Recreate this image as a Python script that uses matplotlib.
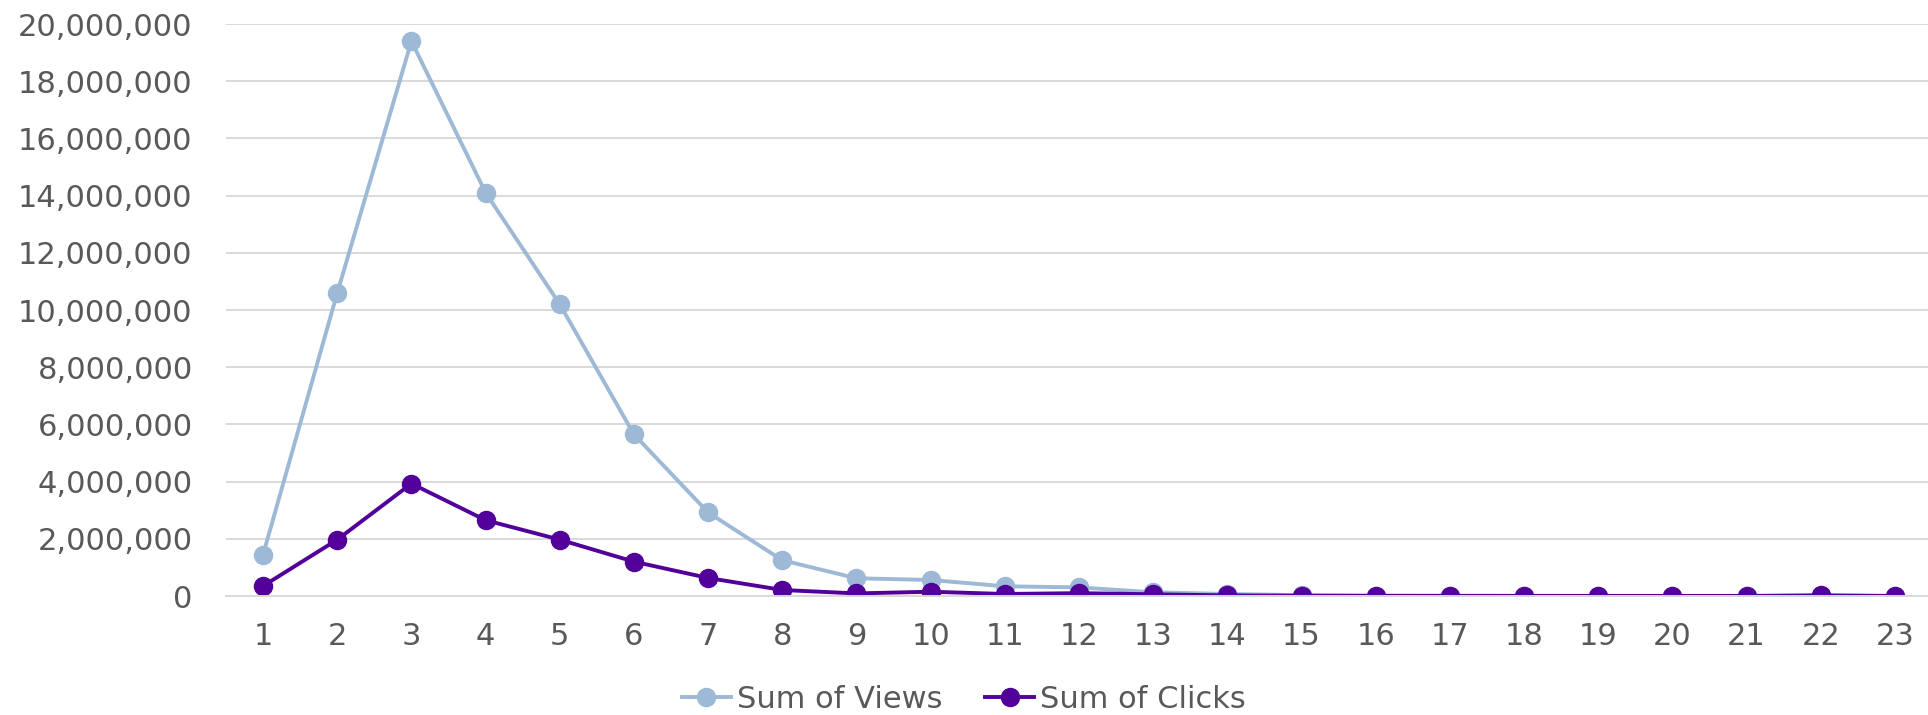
import matplotlib
matplotlib.use("Agg")
import matplotlib.pyplot as plt
from matplotlib.ticker import FuncFormatter, MultipleLocator

# categorias no eixo X
cats = list(range(1, 24))

views = [1450000, 10600000, 19400000, 14100000, 10200000, 5650000, 2920000,
         1250000, 620000, 560000, 340000, 300000, 130000, 70000, 30000,
         12000, 8000, 6000, 5000, 4000, 3000, 2500, 2000]
clicks = [350000, 1970000, 3930000, 2650000, 1970000, 1200000, 630000,
          210000, 90000, 150000, 70000, 100000, 60000, 20000, 10000,
          5000, 4000, 3000, 3000, 2000, 2000, 25000, 1000]

cor_views = '#9DB9D5'
cor_clicks = '#520099'
cor_texto = '#595959'

plt.rcParams['font.family'] = ['DejaVu Sans']

fig = plt.figure(figsize=(19.28, 7.15), dpi=100)
ax = fig.add_axes([226 / 1928, 1 - 596 / 715, (1932 - 226) / 1928, (596 - 24) / 715])

ax.plot(cats, views, color=cor_views, lw=2.8, marker='o', ms=13, label='Sum of Views')
ax.plot(cats, clicks, color=cor_clicks, lw=2.8, marker='o', ms=13, label='Sum of Clicks')

ax.set_xlim(0.5, 23.5)
ax.set_ylim(0, 20000000)
ax.yaxis.set_major_locator(MultipleLocator(2000000))
ax.yaxis.set_major_formatter(FuncFormatter(lambda v, p: f'{int(v):,}'))
ax.set_xticks(cats)

ax.grid(axis='y', color='#D9D9D9', lw=1.4)
ax.set_axisbelow(True)
for s in ['top', 'right', 'left']:
    ax.spines[s].set_visible(False)
ax.spines['bottom'].set_color('#D9D9D9')
ax.spines['bottom'].set_linewidth(1.4)
ax.tick_params(axis='both', length=0, labelsize=22, labelcolor=cor_texto)
ax.tick_params(axis='x', pad=19)
ax.tick_params(axis='y', pad=24)

leg = fig.legend(loc='center', bbox_to_anchor=(0.5, 1 - 699 / 715), ncol=2, frameon=False,
                 fontsize=22, handlelength=1.6, columnspacing=1.4, handletextpad=0.2,
                 borderaxespad=0)
for t in leg.get_texts():
    t.set_color(cor_texto)

fig.savefig('out.png', dpi=100)
